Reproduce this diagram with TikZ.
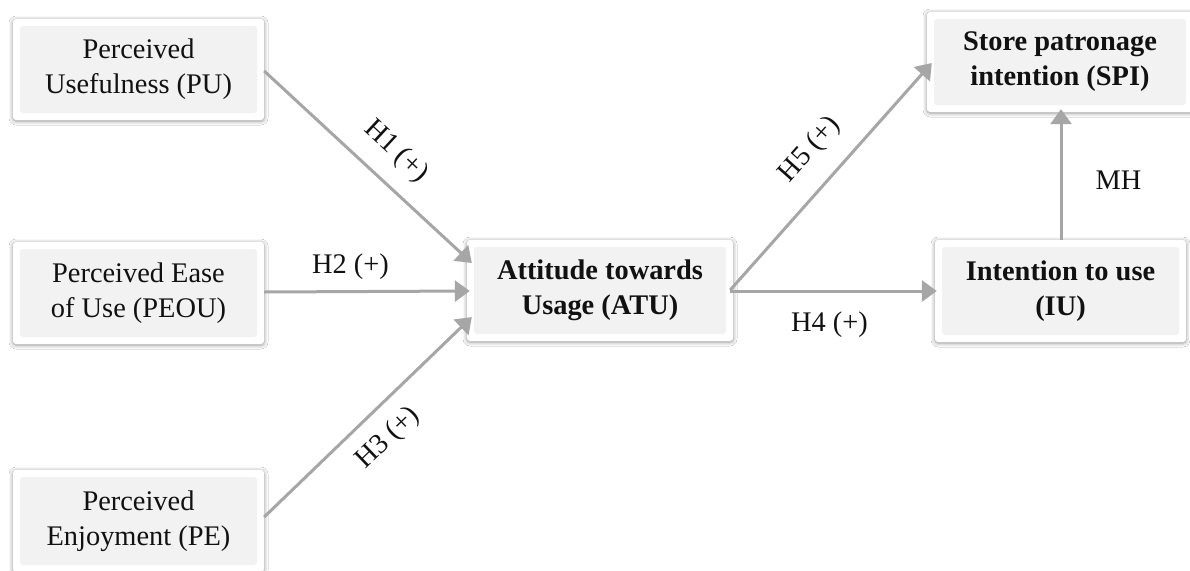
\documentclass[tikz,border=0pt]{standalone}
\usepackage{fontspec}
\setmainfont{Liberation Serif}
\usetikzlibrary{arrows.meta,shadows.blur,calc}
\definecolor{boxgray}{HTML}{F2F2F2}
\definecolor{arrowgray}{HTML}{A6A6A6}
\definecolor{txt}{HTML}{111111}
\begin{document}
\begin{tikzpicture}[x=1pt,y=-1pt,
  box/.style={fill=white, rounded corners=3pt,
    blur shadow={shadow xshift=0pt, shadow yshift=-1pt, shadow blur radius=4pt, shadow opacity=45},
    minimum width=251pt, minimum height=101pt, inner sep=0pt, align=center,
    font=\fontsize{28.4pt}{35pt}\selectfont, text=txt,
    path picture={\fill[boxgray] ([shift={(7pt,-7pt)}]path picture bounding box.north west) rectangle ([shift={(-7pt,7pt)}]path picture bounding box.south east);}},
  bbox/.style={box, font=\fontsize{28.4pt}{35pt}\selectfont\bfseries},
  conn/.style={draw=arrowgray, line width=3pt, -{Triangle[length=15pt,width=21pt]}},
  lab/.style={font=\fontsize{28.4pt}{35pt}\selectfont, inner sep=0pt, text=txt}]
\clip (0,0) rectangle (1190,570);
\fill[white] (0,0) rectangle (1190,570);
% nodes
\node[box] (pu) at (138.5,69.5) {Perceived\\Usefulness (PU)};
\node[box, minimum height=102pt] (peou) at (138.5,293) {Perceived Ease\\of Use (PEOU)};
\node[box, minimum height=102pt] (pe) at (138.5,521) {Perceived\\Enjoyment (PE)};
\node[bbox, minimum width=266pt] (atu) at (600,290.5) {Attitude towards\\Usage (ATU)};
\node[bbox, minimum width=266pt, minimum height=100pt] (spi) at (1060,62) {Store patronage\\intention (SPI)};
\node[bbox, minimum height=102pt] (iu) at (1060.5,291) {Intention to use\\(IU)};
% connectors
\draw[conn] ($(pu.east)+(0,1.5)$) -- node[lab, sloped, pos=0.535, above=16pt] {H1 (+)} ($(atu.west)+(5,-27.5)$);
\draw[conn] ($(peou.east)+(0,-1)$) -- node[lab, pos=0.42, above=11pt] {H2 (+)} ($(atu.west)+(3,0.5)$);
\draw[conn] ($(pe.east)+(0,-4)$) -- node[lab, sloped, pos=0.5, below=15pt] {H3 (+)} ($(atu.west)+(5,26.5)$);
\draw[conn] ($(atu.east)+(-3,-0.5)$) -- node[lab, sloped, pos=0.52, above=19pt] {H5 (+)} ($(spi.west)+(5,1)$);
\draw[conn] ($(atu.east)+(-3,0.5)$) -- node[lab, pos=0.48, below=19pt] {H4 (+)} ($(iu.west)+(2,0)$);
\draw[conn] ($(iu.north)+(0.5,0)$) -- node[lab, pos=0.46, right=33pt] {MH} ($(spi.south)+(1,-3)$);
\end{tikzpicture}
\end{document}
